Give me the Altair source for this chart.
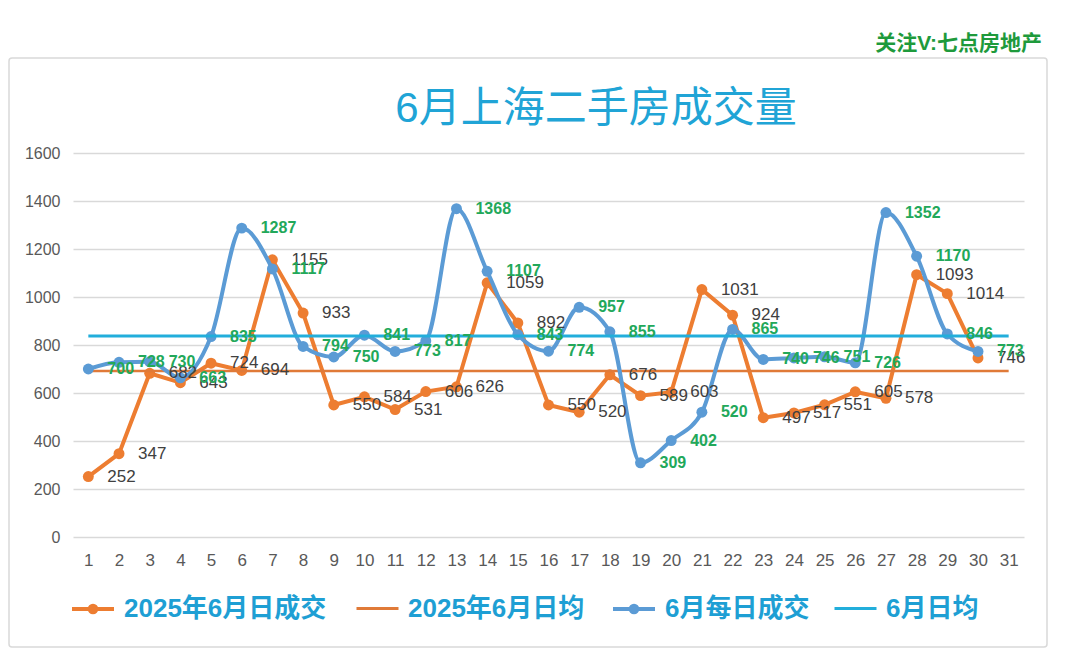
import altair as alt
import pandas as pd

# ---------------- data ----------------
days = list(range(1, 31))
sales_2025 = [252, 347, 682, 643, 724, 694, 1155, 933, 550, 584, 531, 606, 626, 1059, 892,
              550, 520, 676, 589, 603, 1031, 924, 497, 517, 551, 605, 578, 1093, 1014, 746]
sales_june = [700, 728, 730, 663, 835, 1287, 1117, 794, 750, 841, 773, 817, 1368, 1107, 843,
              774, 957, 855, 309, 402, 520, 865, 740, 746, 751, 726, 1352, 1170, 846, 773]
avg_2025 = [692, 692]
avg_june = [838, 838]
avg_days = [1, 31]
x_ticks = list(range(1, 32))
y_ticks = [0, 200, 400, 600, 800, 1000, 1200, 1400, 1600]
names = ["2025年6月日成交", "2025年6月日均", "6月每日成交", "6月日均"]
title_text = "6月上海二手房成交量"
watermark = "关注V:七点房地产"

# ---------------- styles ----------------
FONT = "Liberation Sans, Noto Sans CJK SC, sans-serif"
ORANGE = "#ED7D31"
ORANGE_AVG = "#E07A38"
BLUE = "#5B9BD5"
CYAN = "#22AEDB"
GREEN = "#22A85A"
LEGEND_TEXT = "#1E9FD4"
DOT_LINE = "M-1,0L1,0M-0.16,0A0.16,0.16,0,1,1,0.16,0A0.16,0.16,0,1,1,-0.16,0Z"
LINE = "M-1,0L1,0"

df_a = pd.DataFrame({"day": days, "value": sales_2025, "series": names[0]})
df_b = pd.DataFrame({"day": days, "value": sales_june, "series": names[2]})
df_avg_a = pd.DataFrame({"day": avg_days, "value": avg_2025, "series": names[1]})
df_avg_b = pd.DataFrame({"day": avg_days, "value": avg_june, "series": names[3]})
one = pd.DataFrame({"k": [0]})

x_enc = alt.X("day:Q",
              scale=alt.Scale(domain=[0.5, 31.5], nice=False, zero=False),
              axis=alt.Axis(values=x_ticks, title=None, grid=False, domain=False, ticks=False,
                            labelFontSize=17, labelColor="#595959", labelPadding=15,
                            labelFont=FONT, labelFlush=False, format="d"))
y_enc = alt.Y("value:Q",
              scale=alt.Scale(domain=[0, 1600], nice=False),
              axis=alt.Axis(values=y_ticks, title=None, domain=False, ticks=False,
                            gridColor="#D9D9D9", gridWidth=1.5,
                            labelFontSize=16, labelColor="#595959", labelPadding=13,
                            labelFont=FONT, format="d"))


def legend(xpos, shape, width):
    return alt.Legend(orient="none", legendX=xpos, legendY=433, title=None,
                      symbolType=shape, symbolSize=1764, symbolStrokeWidth=width,
                      labelFontSize=26, labelFont=FONT, labelFontWeight="bold",
                      labelColor=LEGEND_TEXT, labelOffset=8, padding=0, labelLimit=0)


def col(name, color, xpos, shape, width):
    return alt.Color("series:N", scale=alt.Scale(domain=[name], range=[color]),
                     legend=legend(xpos, shape, width))


frame = alt.Chart(one).mark_rect(filled=False, stroke="#D9D9D9", strokeWidth=1.5,
                                 cornerRadius=3).encode(
    x=alt.value(-64), x2=alt.value(974), y=alt.value(-95), y2=alt.value(494))

mark_txt = alt.Chart(one).mark_text(text=watermark, align="right", baseline="middle",
                                    fontSize=21, fontWeight="bold", color="#1E9A3C",
                                    font=FONT).encode(x=alt.value(969), y=alt.value(-109))

title_mark = alt.Chart(one).mark_text(text=title_text, align="center", baseline="middle",
                                      fontSize=42, color="#20A4D6",
                                      font=FONT).encode(x=alt.value(523), y=alt.value(-44))

line_a = alt.Chart(df_a).mark_line(
    strokeWidth=4, point=alt.OverlayMarkDef(size=120, filled=True, opacity=1)
).encode(x=x_enc, y=y_enc, color=col(names[0], ORANGE, -3, DOT_LINE, 4))

avg_a = alt.Chart(df_avg_a).mark_line(strokeWidth=2.5).encode(
    x=x_enc, y=y_enc, color=col(names[1], ORANGE_AVG, 282, LINE, 3))

line_b = alt.Chart(df_b).mark_line(
    strokeWidth=4, interpolate="monotone",
    point=alt.OverlayMarkDef(size=120, filled=True, opacity=1)
).encode(x=x_enc, y=y_enc, color=col(names[2], BLUE, 538, DOT_LINE, 4))

avg_b = alt.Chart(df_avg_b).mark_line(strokeWidth=3).encode(
    x=x_enc, y=y_enc, color=col(names[3], CYAN, 760, LINE, 3))

lab_a = alt.Chart(df_a).mark_text(align="left", baseline="middle", dx=19, fontSize=17,
                                  color="#404040", font=FONT).encode(
    x=x_enc, y=y_enc, text=alt.Text("value:Q", format="d"))

lab_b = alt.Chart(df_b).mark_text(align="left", baseline="middle", dx=19, fontSize=16,
                                  fontWeight="bold", color=GREEN, font=FONT).encode(
    x=x_enc, y=y_enc, text=alt.Text("value:Q", format="d"))

chart = alt.layer(frame, mark_txt, title_mark, line_a, avg_a, line_b, avg_b, lab_a,
                  lab_b).resolve_scale(
    color="independent"
).properties(
    width=951, height=384,
    autosize=alt.AutoSizeParams(type="none"),
    padding={"left": 65, "top": 145, "right": 40, "bottom": 112},
).configure_view(strokeWidth=0)

chart.save("out.html", embed_options={"renderer": "svg", "actions": False})
